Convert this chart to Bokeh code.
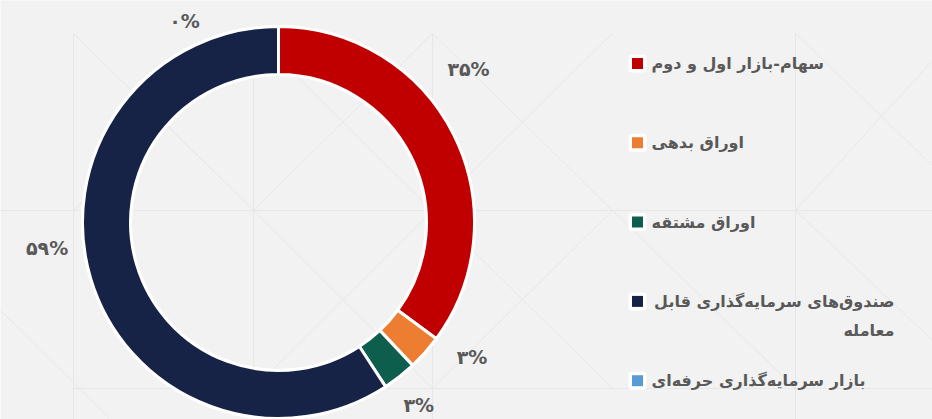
import math
from bokeh.plotting import figure
from bokeh.models import Range1d, ColumnDataSource
from bokeh.core.properties import value
from bokeh.embed import file_html
from bokeh.resources import INLINE

# ---- data ----
categories = [
    "سهام-بازار اول و دوم",
    "اوراق بدهی",
    "اوراق مشتقه",
    "صندوق‌های سرمایه‌گذاری قابل\nمعامله",
    "بازار سرمایه‌گذاری حرفه‌ای",
]
shares = [35.1, 2.9, 2.8, 59.2, 0.0]
pct_labels = ["۳۵%", "۳%", "۳%", "۵۹%", "۰%"]
colors = ["#C00000", "#ED7D31", "#0E5E4E", "#162347", "#5B9BD5"]

# ---- layout (pixel space, y measured from top) ----
W, H = 932, 419
def Y(py):
    return H - py

cx, cy = 278, 222
r_out, r_in = 196, 148
label_r = 232
# per-label nudges (pixels) to mimic the original label placement
label_nudge = [(-17, -49), (20, -19), (-3, 0), (-9, -41), (-94, 30)]
font = value("DejaVu Sans")
text_color = "#595959"

p = figure(width=W, height=H, output_backend="svg", toolbar_location=None,
           x_range=Range1d(0, W), y_range=Range1d(0, H), min_border=0)
p.background_fill_color = "#f2f2f2"
p.border_fill_color = "#f2f2f2"
p.outline_line_color = None
p.axis.visible = False
p.grid.visible = False

# faint background decoration
deco_col = "#e7e7ea"
vx = [73, 253, 432, 795]
for x in vx:
    p.segment(x0=[x], y0=[Y(33)], x1=[x], y1=[Y(419)], line_color=deco_col, line_width=1)
p.segment(x0=[0], y0=[Y(210)], x1=[W], y1=[Y(210)], line_color=deco_col, line_width=1)
p.segment(x0=[73], y0=[Y(388)], x1=[W], y1=[Y(388)], line_color=deco_col, line_width=1)
diag = [((73, 33), (253, 210)), ((253, 33), (73, 210)), ((253, 33), (432, 210)), ((432, 33), (253, 210)),
        ((432, 33), (612, 210)), ((612, 33), (432, 210)), ((795, 33), (932, 165)), ((932, 60), (795, 210)),
        ((0, 310), (110, 419)), ((253, 210), (432, 388)), ((432, 210), (253, 388)),
        ((432, 210), (612, 388)), ((612, 210), (432, 388)), ((795, 210), (932, 340)), ((612, 210), (795, 388))]
for (a, b) in diag:
    p.segment(x0=[a[0]], y0=[Y(a[1])], x1=[b[0]], y1=[Y(b[1])], line_color=deco_col, line_width=1)

# ---- donut ----
total = sum(shares)
starts, ends, mids = [], [], []
cum = 0.0
for v in shares:
    c0 = cum / total
    cum += v
    c1 = cum / total
    starts.append(math.pi / 2 - 2 * math.pi * c0)
    ends.append(math.pi / 2 - 2 * math.pi * c1)
    mids.append(2 * math.pi * (c0 + c1) / 2)

keep = [i for i, v in enumerate(shares) if v > 0]
src = ColumnDataSource(dict(x=[cx] * len(keep), y=[Y(cy)] * len(keep),
                            start=[starts[i] for i in keep], end=[ends[i] for i in keep],
                            color=[colors[i] for i in keep]))
# white outline ring
p.annular_wedge(x=cx, y=Y(cy), inner_radius=r_in - 1.5, outer_radius=r_out + 1.5,
                start_angle=0, end_angle=2 * math.pi, fill_color="white", line_color=None)
p.annular_wedge(x="x", y="y", inner_radius=r_in, outer_radius=r_out,
                start_angle="start", end_angle="end", direction="clock",
                fill_color="color", line_color="white", line_width=3, source=src)

# percentage labels
lx, ly = [], []
for m, (dx, dy) in zip(mids, label_nudge):
    px = cx + label_r * math.sin(m) + dx
    py = cy - label_r * math.cos(m) + dy
    lx.append(px)
    ly.append(Y(py))
p.text(x=lx, y=ly, text=pct_labels, text_font=font, text_font_style="bold",
       text_font_size="19px", text_color=text_color, text_align="center",
       text_baseline="middle")

# ---- legend ----
leg_x = 637
leg_y0, leg_dy = 63, 79.3
text_x = 651
wrap_right = 894
for i, (cat, col) in enumerate(zip(categories, colors)):
    yy = leg_y0 + leg_dy * i
    p.rect(x=[leg_x], y=[Y(yy)], width=18, height=18, fill_color="white", line_color=None,
           border_radius=3)
    p.rect(x=[leg_x], y=[Y(yy)], width=11, height=11, fill_color=col, line_color=None)
    lines = cat.split("\n")
    if len(lines) == 1:
        p.text(x=[text_x], y=[Y(yy)], text=[lines[0]], text_font=font, text_font_style="bold",
               text_font_size="16px", text_color=text_color, text_align="left",
               text_baseline="middle")
    else:
        for k, ln in enumerate(lines):
            p.text(x=[wrap_right], y=[Y(yy + 29 * k)], text=[ln], text_font=font,
                   text_font_style="bold", text_font_size="16px", text_color=text_color,
                   text_align="right", text_baseline="middle")

open("out.html", "w").write(file_html(p, INLINE))
